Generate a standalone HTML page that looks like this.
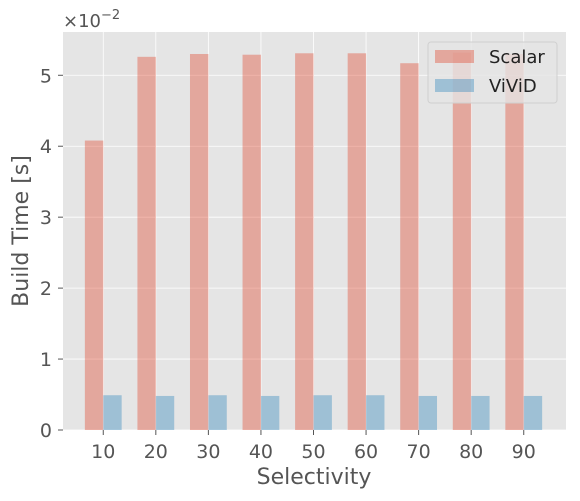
<!DOCTYPE html>
<html><head><meta charset="utf-8"><style>
body{margin:0;background:#fff;font-family:"DejaVu Sans","Liberation Sans",sans-serif;}
</style></head><body>
<svg width="580" height="497" xmlns="http://www.w3.org/2000/svg" font-family="DejaVu Sans, Liberation Sans, sans-serif">
<rect x="63" y="32" width="503" height="398" fill="#e5e5e5"/>
<g id="grid"></g>
<g id="bars"></g>
<g id="axes"></g>
<text x="63" y="27" font-size="18" fill="#555">×10<tspan dy="-8" font-size="13">−2</tspan></text>
<text x="314" y="484" font-size="22" fill="#555" text-anchor="middle">Selectivity</text>
<text transform="translate(28,231) rotate(-90)" font-size="22" fill="#555" text-anchor="middle">Build Time [s]</text>
<g>
<rect x="428" y="42" width="129" height="61" rx="3" fill="#e5e5e5" fill-opacity="0.8" stroke="#d0d0d0"/>
<rect x="435" y="50" width="39" height="13" fill="#E24A33" fill-opacity="0.4"/>
<text x="489" y="63" font-size="18" fill="#222">Scalar</text>
<rect x="435" y="79" width="39" height="13" fill="#348ABD" fill-opacity="0.4"/>
<text x="489" y="92" font-size="18" fill="#222">ViViD</text>
</g>
</svg>
<script>
const categories = ["10","20","30","40","50","60","70","80","90"];
const scalarValues = [4.08,5.26,5.30,5.29,5.31,5.31,5.17,5.32,5.30];
const vividValues = [0.49,0.48,0.49,0.48,0.49,0.49,0.48,0.48,0.48];
const yTicks = [0,1,2,3,4,5];
const NS="http://www.w3.org/2000/svg";
const L=63,R=566,T=32,B=430,yMax=5.61;
const n=categories.length,bw=0.35;
function xs(v){return L-1+(v-(-bw-(n-1+2*bw)*0.05))/((n-1+2*bw)*1.1)*(R-L);}
function ys(v){return B-v/yMax*(B-T);}
function mk(tag,attrs,parent,text){const e=document.createElementNS(NS,tag);for(const k in attrs)e.setAttribute(k,attrs[k]);if(text!==undefined)e.textContent=text;document.getElementById(parent).appendChild(e);return e;}
yTicks.forEach(t=>{
 const g=mk('line',{x1:L,x2:R,y1:ys(t),y2:ys(t),stroke:'#fff','stroke-width':0.8},'grid');
 
 
 const tk=mk('line',{x1:L-5,x2:L,y1:ys(t),y2:ys(t),stroke:'#555'},'axes');
 
 
 const lb=mk('text',{x:L-11,y:ys(t)+7,'font-size':19,fill:'#555','text-anchor':'end'},'axes',String(t));
 
 
});
categories.forEach((c,i)=>{
 const g=mk('line',{x1:xs(i),x2:xs(i),y1:T,y2:B,stroke:'#fff','stroke-width':0.8},'grid');
 
 
 const s=mk('rect',{x:xs(i-bw),y:ys(scalarValues[i]),width:xs(i)-xs(i-bw),height:B-ys(scalarValues[i]),fill:'#E24A33','fill-opacity':0.4},'bars');
 
 
 const v=mk('rect',{x:xs(i),y:ys(vividValues[i]),width:xs(i+bw)-xs(i),height:B-ys(vividValues[i]),fill:'#348ABD','fill-opacity':0.4},'bars');
 
 
 const tk=mk('line',{x1:xs(i),x2:xs(i),y1:B,y2:B+5,stroke:'#555'},'axes');
 
 
 const lb=mk('text',{x:xs(i),y:B+28,'font-size':19,fill:'#555','text-anchor':'middle'},'axes',c);
 
 
});
</script>
</body></html>
